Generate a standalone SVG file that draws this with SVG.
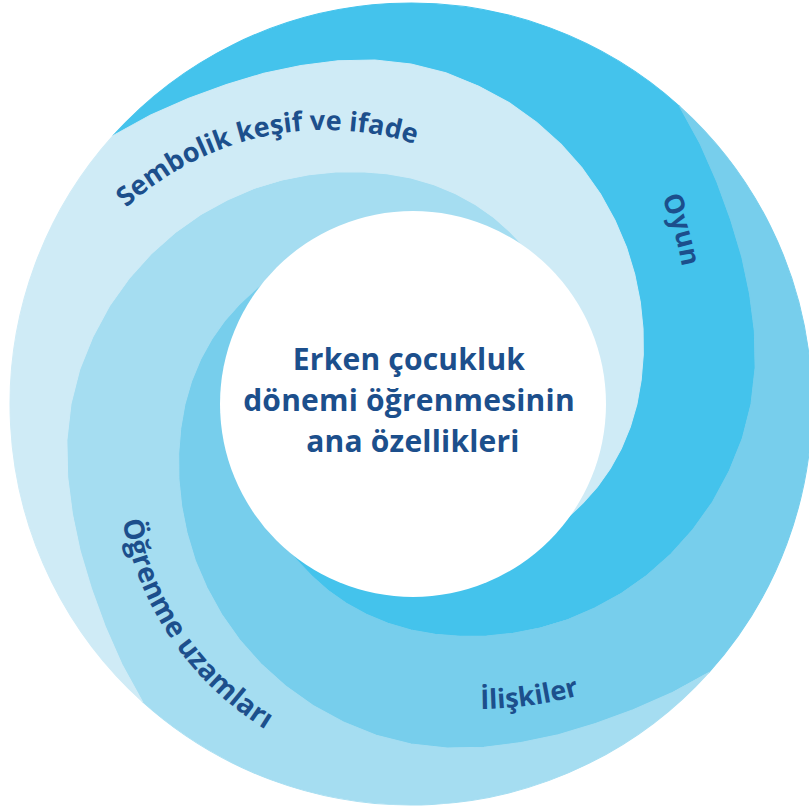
<svg xmlns="http://www.w3.org/2000/svg" xmlns:xlink="http://www.w3.org/1999/xlink" width="809" height="812" viewBox="0 0 809 812">
  <style>
    .label { font-family: "Open Sans", "Noto Sans", "DejaVu Sans", sans-serif; font-weight: 700; fill: #1c4f8c; }
    .ring { font-size: 27px; }
    .ring-l { font-size: 28px; }
    .core { font-size: 30px; letter-spacing: 0.2px; }
    .band { stroke-width: 1; stroke-linejoin: round; }
  </style>
  <defs>
    <!-- One swirl band in local polar coordinates: outer rim arc (0..90 deg), outer spiral edge
         (the inner spiral turned by 90 deg), short inner arc, inner spiral edge back to the rim. -->
    <path id="band" d="M 401,0 A 401 401 0 0 1 0,401
      L -40.66,386.87 -78.59,369.74 -114.03,350.94 -147.24,330.70 -178.00,308.30 -206.31,283.96 -231.52,257.13 -252.67,227.50 -269.40,195.73 -281.46,162.50 -289.59,128.94 -293.40,95.33 -293.44,62.37 -289.90,30.47 -283,0 -273.00,-28.69 -260.68,-55.41 -245.85,-79.88 -229.30,-102.09 -211.31,-122.00 -192.14,-139.60 -172.04,-154.90 -151.22,-167.95 -129.61,-178.39 -107.50,-186.20 -85.21,-191.39 -63.04,-194.02 -41.27,-194.16 -20.23,-192.44 0,-189.5
      A 189.5 189.5 0 0 0 -189.5,0
      L -192.44,20.23 -194.16,41.27 -194.02,63.04 -191.39,85.21 -186.20,107.50 -178.39,129.61 -167.95,151.22 -154.90,172.04 -139.60,192.14 -122.00,211.31 -102.09,229.30 -79.88,245.85 -55.41,260.68 -28.69,273.00 0,283 30.47,289.90 62.37,293.44 95.33,293.40 128.94,289.59 162.50,281.46 195.73,269.40 227.50,252.67 257.13,231.52 283.96,206.31 308.30,178.00 330.70,147.24 350.94,114.03 369.74,78.59 386.87,40.66 Z"/>
    <!-- baselines for the curved band labels -->
    <path id="p-sembolik" d="M 122,212 A 293.3 293.3 0 0 1 420.9,146"/>
    <path id="p-ogrenme" d="M 121,512 A 312.8 312.8 0 0 0 273,734"/>
    <path id="p-iliskiler" d="M 476,709 A 380 380 0 0 0 584,694"/>
    <path id="p-oyun" d="M 659,192 A 300 300 0 0 1 683,273"/>
  </defs>

  <g id="band-oyun">
    <use xlink:href="#band" class="band" fill="#44c3ec" stroke="#44c3ec" transform="translate(411 404) rotate(222)"/>
    <text class="label ring"><textPath xlink:href="#p-oyun" startOffset="50%" text-anchor="middle">Oyun</textPath></text>
  </g>

  <g id="band-iliskiler">
    <use xlink:href="#band" class="band" fill="#77ceec" stroke="#77ceec" transform="translate(411 404) rotate(312)"/>
    <text class="label ring"><textPath xlink:href="#p-iliskiler" startOffset="50%" text-anchor="middle">İlişkiler</textPath></text>
  </g>

  <g id="band-ogrenme">
    <use xlink:href="#band" class="band" fill="#a5ddf1" stroke="#a5ddf1" transform="translate(411 404) rotate(42)"/>
    <text class="label ring-l"><textPath xlink:href="#p-ogrenme" startOffset="50%" text-anchor="middle">Öğrenme uzamları</textPath></text>
  </g>

  <g id="band-sembolik">
    <use xlink:href="#band" class="band" fill="#cfebf6" stroke="#cfebf6" transform="translate(411 404) rotate(132)"/>
    <text class="label ring"><textPath xlink:href="#p-sembolik" startOffset="50%" text-anchor="middle">Sembolik keşif ve ifade</textPath></text>
  </g>

  <g id="connectors"/>

  <g id="center">
    <circle cx="413" cy="404" r="193" fill="#ffffff"/>
    <text class="label core" text-anchor="middle">
      <tspan x="413" y="370">Erken çocukluk</tspan>
      <tspan x="413" y="411">dönemi öğrenmesinin</tspan>
      <tspan x="413" y="452">ana özellikleri</tspan>
    </text>
  </g>
</svg>
